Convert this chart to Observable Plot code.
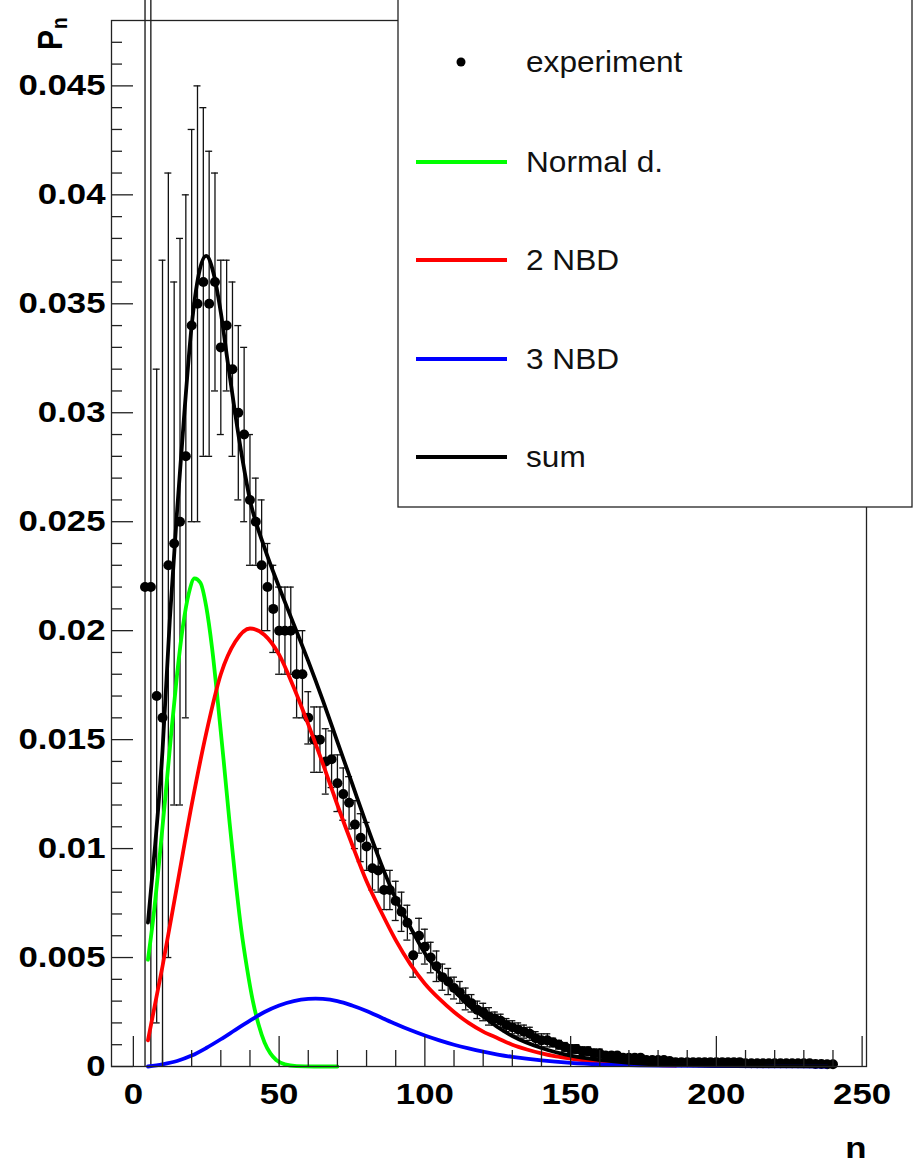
<!DOCTYPE html>
<html><head><meta charset="utf-8">
<script src="https://cdn.jsdelivr.net/npm/d3@7"></script>
<script src="https://cdn.jsdelivr.net/npm/@observablehq/plot@0.6"></script>
<style>html,body{margin:0;padding:0;background:#fff;} svg{display:block}</style>
</head><body><div id="chart"></div>
<script>
// ---------- data ----------
const expN = [4,6,8,10,12,14,16,18,20,22, 24,26,28,30,32,34,36,38,40,42, 44,46,48,50,52,54,56,58,60,62,
  64,66,68,70,72,74,76,78,80,82, 84,86,88,90,92,94,96,98,100,102, 104,106,108,110,112,114,116,118,120,122,
  124,126,128,130,132,134,136,138,140,142, 144,146,148,150,152,154,156,158,160,162, 164,166,168,170,172,174,176,178,180,182,
  184,186,188,190,192,194,196,198,200,202, 204,206,208,210,212,214,216,218,220,222, 224,226,228,230,232,234,236,238,240];
const expP = [.0220,.0220,.0170,.0160,.0230,.0240,.0250,.0280,.0340,.0350,
  .0360,.0350,.0360,.0330,.0340,.0320,.0300,.0290,.0260,.0250,
  .0230,.0220,.0210,.0200,.0200,.0200,.0180,.0180,.0160,.0150,
  .0150,.0140,.0141,.0130,.0125,.0121,.0111,.0105,.0101,.0091,
  .0090,.0081,.0081,.0076,.0071,.0066,.0051,.0060,.0055,.0050,
  .0046,.0041,.0039,.0036,.0034,.0031,.0029,.0026,.0025,.0023,
  .0022,.0021,.0019,.0018,.0017,.0016,.0015,.0013,.0012,.0012,
  .0011,.0010,.0009,.0008,.0008,.0007,.0007,.0006,.0006,.0005,
  .0005,.0005,.0004,.0004,.0004,.0004,.0003,.0003,.0003,.0003,
  .00025,.0002,.0002,.0002,.0002,.0002,.0002,.0002,.0002,.0002,
  .0002,.0002,.0002,.00015,.00015,.00015,.00015,.00015,.00015,.00015,
  .00015,.00015,.00015,.00015,.00015,.00012,.00012,.0001,.0001];
const expErr = [.030,.030,.015,.021,.018,.012,.013,.012,.009,.010,
  .008,.007,.005,.004,.003,.004,.004,.004,.003,.002,
  .003,.002,.002,.002,.002,.002,.002,.002,.0012,.0015,
  .0015,.0015,.0013,.0013,.0012,.0012,.0011,.0011,.0011,.0010,
  .0010,.0009,.0009,.0009,.0009,.0008,.0010,.0008,.0008,.0007,
  .0007,.0006,.0006,.0005,.0005,.0005,.0004,.0004,.0004,.0004,
  .0003,.0003,.0003,.0003,.0003,.0003,.0003,.0003,.0003,.0003,
  .0002,.0002,.0002,.0002,.0002,.0002,.0002,.0002,.0002,.00015,
  .00015,.00015,.00015,.00015,.00015,.00015,.00015,.00015,.00015,.0001,
  .0001,.0001,.0001,.0001,.0001,.0001,.0001,.0001,.0001,.0001,
  .0001,.0001,.0001,.0001,.0001,.0001,.0001,.0001,.0001,.0001,
  .0001,.0001,.0001,.0001,.0001,.0001,.0001,.0001,.0001];

const greenN = [5,7,9,11,13,15,17,19,21,23,25,27,29,31,33,35,37,39,41,43,45,47,49,52,56,62,70];
const greenP = [0.0049,0.0070,0.0096,0.0124,0.0153,0.0180,0.0202,0.0217,0.0224,0.0222,0.0211,0.0192,0.0167,0.0140,0.0112,0.0086,0.0063,0.0045,0.0030,0.0019,0.0011,0.0006,0.0003,0.0001,0.00002,0,0];

const redN = [5,10,15,20,25,30,35,40,45,50,55,60,65,70,75,80,85,90,95,100,105,110,115,120,125,130,135,140,145,150,155,160,165,170,175,180,186];
const redP = [0.0012,0.0046,0.0083,0.0120,0.0153,0.0180,0.0195,0.0201,0.0198,0.0189,0.0174,0.0157,0.0139,0.0120,0.0102,0.0085,0.0071,0.0058,0.0047,0.0038,0.0031,0.0025,0.0020,0.0016,0.0013,0.0010,0.00078,0.00060,0.00046,0.00036,0.00027,0.00020,0.00015,0.00011,0.00008,0.00006,0.00004];

const blueN = [5,10,15,20,25,30,35,40,45,50,55,60,65,70,75,80,85,90,95,100,105,110,115,120,125,130,140,150,160,170,180,200,220,238];
const blueP = [0,0.0001,0.00025,0.0005,0.00085,0.00125,0.00168,0.0021,0.0025,0.0028,0.0030,0.0031,0.0031,0.0030,0.0028,0.00255,0.00225,0.00195,0.00167,0.00142,0.0012,0.0010,0.00083,0.00068,0.00055,0.00044,0.00028,0.00017,0.0001,0.00006,0.00004,0.00002,0.00001,0];

const sumN = [5,7.5,10,12.5,15,17.5,20,22.5,25,27.5,30,32.5,35,37.5,40,45,50,55,60,65,70,75,80,85,90,95,100,105,110,115,120,125,130,140,150,160,170,180,190,200,220,240];
const sumP = [0.0066,0.0102,0.0145,0.0205,0.0255,0.0300,0.0340,0.0364,0.0372,0.0364,0.0346,0.0322,0.0299,0.0278,0.0260,0.0238,0.0220,0.0203,0.0186,0.0168,0.0149,0.0130,0.0111,0.0093,0.0077,0.0064,0.0052,0.0043,0.0035,0.0028,0.0023,0.0018,0.0014,0.00085,0.0005,0.0003,0.00017,0.0001,0.00006,0.00004,0.00002,0.00001];

const xTickValues = [0,50,100,150,200,250];
const xTickLabels = ["0","50","100","150","200","250"];
const yTickValues = [0,0.005,0.01,0.015,0.02,0.025,0.03,0.035,0.04,0.045];
const yTickLabels = ["0","0.005","0.01","0.015","0.02","0.025","0.03","0.035","0.04","0.045"];

const legendLabels = ["experiment","Normal d.","2 NBD","3 NBD","sum"];
const legendColors = ["#000000","#00ff00","#ff0000","#0000ff","#000000"];

// ---------- layout ----------
const W = 921, H = 1163;
const mL = 111, mR = 55, mT = 20, mB = 97;
const plotW = W - mL - mR, plotH = H - mT - mB;
const xDomain = [-7.5, 251.5], yDomain = [0, 0.048];
const xPerPx = (xDomain[1]-xDomain[0]) / plotW;
const font = "'Liberation Sans', Arial, Helvetica, sans-serif";

const points = expN.map((n,i)=>({n, p: expP[i], e: expErr[i]}));
const mk = (N,P)=>N.map((n,i)=>({n, p:P[i]}));
const capHalf = 3.5 * xPerPx;
const capsTop = points.filter(d=>d.p+d.e <= yDomain[1]);
const capsBot = points.filter(d=>d.p-d.e >= 0);

const xMinor = d3.range(10, 250, 10).filter(v=>v%50!==0);
const yMinor = d3.range(1, 48).filter(v=>v%5!==0).map(v=>v/1000);

const lineOpts = {x:"n", y:"p", strokeWidth:3.8, curve:"monotone-x"};
const tickStyle = {stroke:"#222", strokeWidth:1.3};

const chart = Plot.plot({
  width: W, height: H,
  marginLeft: mL, marginRight: mR, marginTop: mT, marginBottom: mB,
  x: {domain: xDomain, axis: null},
  y: {domain: yDomain, axis: null},
  style: {fontFamily: font, background: "white", overflow: "visible"},
  marks: [
    Plot.ruleX(points, {x:"n", y1: d=>Math.max(0, d.p-d.e), y2: d=>d.p+d.e, stroke:"#111", strokeWidth:1.3}),
    Plot.ruleY(capsTop, {y: d=>d.p+d.e, x1: d=>d.n-capHalf, x2: d=>d.n+capHalf, stroke:"#111", strokeWidth:1.3}),
    Plot.ruleY(capsBot, {y: d=>d.p-d.e, x1: d=>d.n-capHalf, x2: d=>d.n+capHalf, stroke:"#111", strokeWidth:1.3}),
    Plot.dot(points, {x:"n", y:"p", r:5, fill:"black", stroke:"none"}),
    Plot.line(mk(greenN, greenP), {...lineOpts, stroke:"#00ff00"}),
    Plot.line(mk(redN, redP), {...lineOpts, stroke:"#ff0000"}),
    Plot.line(mk(blueN, blueP), {...lineOpts, stroke:"#0000ff", curve:"catmull-rom"}),
    Plot.line(mk(sumN, sumP), {...lineOpts, stroke:"#000000"}),
    Plot.tickX(xTickValues, {x: d=>d, insetTop: plotH-30, ...tickStyle}),
    Plot.tickX(xMinor, {x: d=>d, insetTop: plotH-16, ...tickStyle}),
    Plot.tickY(yTickValues, {y: d=>d, insetRight: plotW-22, ...tickStyle}),
    Plot.tickY(yMinor, {y: d=>d, insetRight: plotW-11, ...tickStyle}),
    Plot.frame({stroke:"#222", strokeWidth:1.3}),
    Plot.text(xTickValues, {x: d=>d, text: (d,i)=>xTickLabels[i], frameAnchor:"bottom", dy: 37,
      fontSize: 30, fontWeight: "bold", fill: "black"}),
    Plot.text(yTickValues, {y: d=>d, text: (d,i)=>yTickLabels[i], frameAnchor:"left", dx: -6, textAnchor: "end",
      fontSize: 30, fontWeight: "bold", fill: "black"})
  ]
});
document.getElementById("chart").appendChild(chart);

const svg = d3.select(chart);
// stretch tick labels horizontally like the original (only Plot text marks present are the tick labels)
svg.selectAll("text").each(function(){
  const t = this.getAttribute("transform");
  if (t) this.setAttribute("transform", t + " scale(1.16,1)");
  else {
    const x = +(this.getAttribute("x")||0), y = +(this.getAttribute("y")||0);
    this.setAttribute("x", 0); this.setAttribute("y", 0);
    this.setAttribute("transform", `translate(${x},${y}) scale(1.16,1)`);
  }
});

// legend
const lg = svg.append("g").attr("font-family", font).attr("text-anchor", "start");
lg.append("rect").attr("x", 398).attr("y", -5).attr("width", 514).attr("height", 512)
  .attr("fill", "white").attr("stroke", "#222").attr("stroke-width", 1.3);
const rowY = [62, 162, 260, 359, 457];
legendLabels.forEach((lab, i) => {
  if (i === 0) {
    lg.append("circle").attr("cx", 461).attr("cy", rowY[i]).attr("r", 4.5).attr("fill", legendColors[i]);
  } else {
    lg.append("line").attr("x1", 416).attr("x2", 507).attr("y1", rowY[i]).attr("y2", rowY[i])
      .attr("stroke", legendColors[i]).attr("stroke-width", 3.8);
  }
  lg.append("text").attr("transform", `translate(526,${rowY[i] + 10}) scale(1.09,1)`)
    .attr("text-anchor", "start").attr("font-size", 29).attr("fill", "#111").text(lab);
});

// axis titles
const yt = svg.append("g").attr("font-family", font).attr("font-weight", "bold").attr("fill", "black").attr("text-anchor", "start");
yt.append("text").attr("transform", "translate(62,50) scale(1.16,1) rotate(-90)").attr("font-size", 30).text("P");
yt.append("text").attr("transform", "translate(67,29) scale(1.16,1) rotate(-90)").attr("font-size", 19).text("n");
svg.append("text").attr("transform", "translate(856,1158) scale(1.16,1)").attr("text-anchor", "middle")
  .attr("font-family", font).attr("font-weight", "bold").attr("font-size", 30).attr("fill", "black").text("n");
</script></body></html>
